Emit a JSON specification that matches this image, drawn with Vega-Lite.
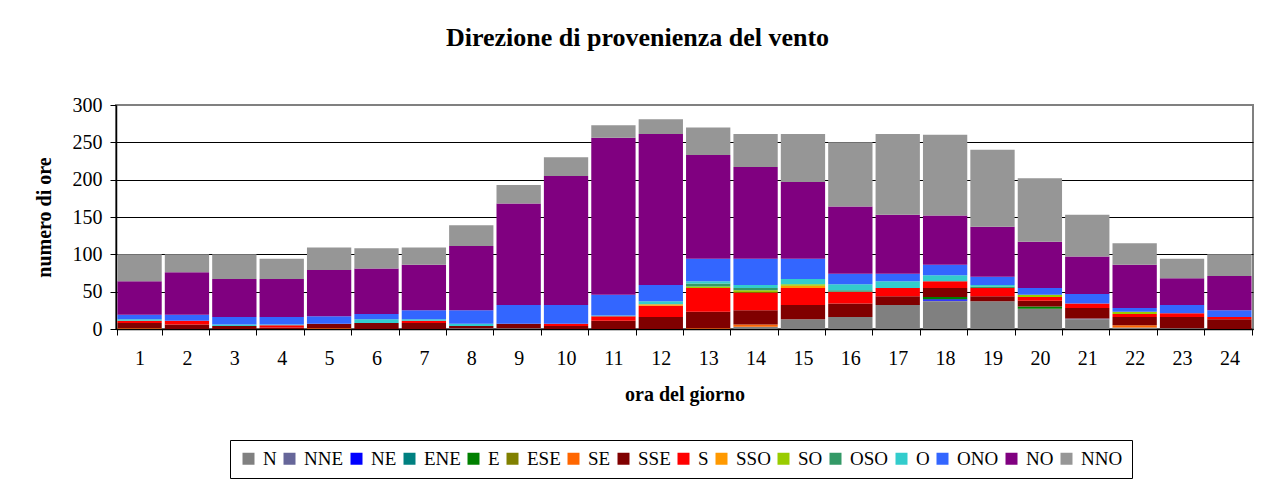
{
  "$schema": "https://vega.github.io/schema/vega-lite/v6.json",
  "width": 1137,
  "height": 224,
  "autosize": {"type": "none"},
  "padding": {"left": 116, "top": 105, "right": 17, "bottom": 155},
  "background": "white",
  "title": {
    "text": "Direzione di provenienza del vento",
    "font": "Liberation Serif",
    "fontSize": 26,
    "fontWeight": "bold",
    "color": "black",
    "anchor": "middle",
    "dx": -47,
    "offset": 44
  },
  "datasets": {
    "dirs": [
      {"d": "N", "k": 0}, {"d": "NNE", "k": 1}, {"d": "NE", "k": 2}, {"d": "ENE", "k": 3},
      {"d": "E", "k": 4}, {"d": "ESE", "k": 5}, {"d": "SE", "k": 6}, {"d": "SSE", "k": 7},
      {"d": "S", "k": 8}, {"d": "SSO", "k": 9}, {"d": "SO", "k": 10}, {"d": "OSO", "k": 11},
      {"d": "O", "k": 12}, {"d": "ONO", "k": 13}, {"d": "NO", "k": 14}, {"d": "NNO", "k": 15}
    ],
    "wind": [
      {"h": 1, "d": "SE", "n": 1}, {"h": 1, "d": "SSE", "n": 7}, {"h": 1, "d": "S", "n": 3}, {"h": 1, "d": "O", "n": 2}, {"h": 1, "d": "ONO", "n": 6}, {"h": 1, "d": "NO", "n": 45}, {"h": 1, "d": "NNO", "n": 36},
      {"h": 2, "d": "SSE", "n": 6}, {"h": 2, "d": "S", "n": 5}, {"h": 2, "d": "ONO", "n": 8}, {"h": 2, "d": "NO", "n": 57}, {"h": 2, "d": "NNO", "n": 24},
      {"h": 3, "d": "SSE", "n": 4}, {"h": 3, "d": "O", "n": 2}, {"h": 3, "d": "ONO", "n": 10}, {"h": 3, "d": "NO", "n": 51}, {"h": 3, "d": "NNO", "n": 33},
      {"h": 4, "d": "SSE", "n": 2}, {"h": 4, "d": "S", "n": 3}, {"h": 4, "d": "O", "n": 1}, {"h": 4, "d": "ONO", "n": 10}, {"h": 4, "d": "NO", "n": 51}, {"h": 4, "d": "NNO", "n": 27},
      {"h": 5, "d": "SE", "n": 1}, {"h": 5, "d": "SSE", "n": 6}, {"h": 5, "d": "ONO", "n": 10}, {"h": 5, "d": "NO", "n": 62}, {"h": 5, "d": "NNO", "n": 30},
      {"h": 6, "d": "SSE", "n": 8}, {"h": 6, "d": "O", "n": 5}, {"h": 6, "d": "ONO", "n": 7}, {"h": 6, "d": "NO", "n": 61}, {"h": 6, "d": "NNO", "n": 27},
      {"h": 7, "d": "SSE", "n": 8}, {"h": 7, "d": "S", "n": 3}, {"h": 7, "d": "O", "n": 2}, {"h": 7, "d": "ONO", "n": 12}, {"h": 7, "d": "NO", "n": 61}, {"h": 7, "d": "NNO", "n": 23},
      {"h": 8, "d": "N", "n": 1}, {"h": 8, "d": "SSE", "n": 3}, {"h": 8, "d": "O", "n": 3}, {"h": 8, "d": "ONO", "n": 18}, {"h": 8, "d": "NO", "n": 86}, {"h": 8, "d": "NNO", "n": 28},
      {"h": 9, "d": "N", "n": 1}, {"h": 9, "d": "SSE", "n": 6}, {"h": 9, "d": "ONO", "n": 25}, {"h": 9, "d": "NO", "n": 136}, {"h": 9, "d": "NNO", "n": 25},
      {"h": 10, "d": "SSE", "n": 4}, {"h": 10, "d": "S", "n": 3}, {"h": 10, "d": "ONO", "n": 25}, {"h": 10, "d": "NO", "n": 173}, {"h": 10, "d": "NNO", "n": 25},
      {"h": 11, "d": "SSE", "n": 11}, {"h": 11, "d": "S", "n": 6}, {"h": 11, "d": "O", "n": 1}, {"h": 11, "d": "ONO", "n": 28}, {"h": 11, "d": "NO", "n": 210}, {"h": 11, "d": "NNO", "n": 17},
      {"h": 12, "d": "SSE", "n": 16}, {"h": 12, "d": "S", "n": 15}, {"h": 12, "d": "SSO", "n": 2}, {"h": 12, "d": "O", "n": 4}, {"h": 12, "d": "ONO", "n": 22}, {"h": 12, "d": "NO", "n": 202}, {"h": 12, "d": "NNO", "n": 20},
      {"h": 13, "d": "SE", "n": 1}, {"h": 13, "d": "SSE", "n": 22}, {"h": 13, "d": "S", "n": 32}, {"h": 13, "d": "SO", "n": 2}, {"h": 13, "d": "OSO", "n": 4}, {"h": 13, "d": "O", "n": 3}, {"h": 13, "d": "ONO", "n": 30}, {"h": 13, "d": "NO", "n": 139}, {"h": 13, "d": "NNO", "n": 37},
      {"h": 14, "d": "N", "n": 3}, {"h": 14, "d": "SE", "n": 3}, {"h": 14, "d": "SSE", "n": 19}, {"h": 14, "d": "S", "n": 24}, {"h": 14, "d": "SO", "n": 3}, {"h": 14, "d": "OSO", "n": 3}, {"h": 14, "d": "O", "n": 4}, {"h": 14, "d": "ONO", "n": 35}, {"h": 14, "d": "NO", "n": 123}, {"h": 14, "d": "NNO", "n": 44},
      {"h": 15, "d": "N", "n": 13}, {"h": 15, "d": "SSE", "n": 19}, {"h": 15, "d": "S", "n": 23}, {"h": 15, "d": "SSO", "n": 3}, {"h": 15, "d": "SO", "n": 2}, {"h": 15, "d": "O", "n": 7}, {"h": 15, "d": "ONO", "n": 27}, {"h": 15, "d": "NO", "n": 103}, {"h": 15, "d": "NNO", "n": 64},
      {"h": 16, "d": "N", "n": 16}, {"h": 16, "d": "SSE", "n": 18}, {"h": 16, "d": "S", "n": 16}, {"h": 16, "d": "OSO", "n": 2}, {"h": 16, "d": "O", "n": 8}, {"h": 16, "d": "ONO", "n": 14}, {"h": 16, "d": "NO", "n": 90}, {"h": 16, "d": "NNO", "n": 86},
      {"h": 17, "d": "N", "n": 32}, {"h": 17, "d": "SSE", "n": 12}, {"h": 17, "d": "S", "n": 11}, {"h": 17, "d": "O", "n": 9}, {"h": 17, "d": "ONO", "n": 10}, {"h": 17, "d": "NO", "n": 79}, {"h": 17, "d": "NNO", "n": 108},
      {"h": 18, "d": "N", "n": 37}, {"h": 18, "d": "NNE", "n": 1}, {"h": 18, "d": "NE", "n": 2}, {"h": 18, "d": "E", "n": 3}, {"h": 18, "d": "SSE", "n": 12}, {"h": 18, "d": "S", "n": 9}, {"h": 18, "d": "O", "n": 8}, {"h": 18, "d": "ONO", "n": 14}, {"h": 18, "d": "NO", "n": 66}, {"h": 18, "d": "NNO", "n": 108},
      {"h": 19, "d": "N", "n": 37}, {"h": 19, "d": "SSE", "n": 7}, {"h": 19, "d": "S", "n": 11}, {"h": 19, "d": "OSO", "n": 2}, {"h": 19, "d": "O", "n": 2}, {"h": 19, "d": "ONO", "n": 11}, {"h": 19, "d": "NO", "n": 67}, {"h": 19, "d": "NNO", "n": 103},
      {"h": 20, "d": "N", "n": 27}, {"h": 20, "d": "E", "n": 3}, {"h": 20, "d": "SSE", "n": 8}, {"h": 20, "d": "S", "n": 5}, {"h": 20, "d": "SO", "n": 3}, {"h": 20, "d": "ONO", "n": 9}, {"h": 20, "d": "NO", "n": 62}, {"h": 20, "d": "NNO", "n": 85},
      {"h": 21, "d": "N", "n": 13}, {"h": 21, "d": "NNE", "n": 1}, {"h": 21, "d": "SSE", "n": 14}, {"h": 21, "d": "S", "n": 6}, {"h": 21, "d": "ONO", "n": 13}, {"h": 21, "d": "NO", "n": 50}, {"h": 21, "d": "NNO", "n": 56},
      {"h": 22, "d": "N", "n": 2}, {"h": 22, "d": "SE", "n": 3}, {"h": 22, "d": "SSE", "n": 11}, {"h": 22, "d": "S", "n": 4}, {"h": 22, "d": "SO", "n": 3}, {"h": 22, "d": "ONO", "n": 5}, {"h": 22, "d": "NO", "n": 58}, {"h": 22, "d": "NNO", "n": 29},
      {"h": 23, "d": "N", "n": 1}, {"h": 23, "d": "SSE", "n": 15}, {"h": 23, "d": "S", "n": 5}, {"h": 23, "d": "ONO", "n": 11}, {"h": 23, "d": "NO", "n": 36}, {"h": 23, "d": "NNO", "n": 26},
      {"h": 24, "d": "SSE", "n": 13}, {"h": 24, "d": "S", "n": 3}, {"h": 24, "d": "ONO", "n": 9}, {"h": 24, "d": "NO", "n": 46}, {"h": 24, "d": "NNO", "n": 29}
    ]
  },
  "data": {"name": "wind"},
  "transform": [
    {"lookup": "d", "from": {"data": {"name": "dirs"}, "key": "d", "fields": ["k"]}}
  ],
  "mark": {"type": "bar"},
  "encoding": {
    "x": {
      "field": "h",
      "type": "ordinal",
      "scale": {"paddingInner": 0.065, "paddingOuter": 0.03},
      "axis": {
        "title": "ora del giorno",
        "titleFont": "Liberation Serif",
        "titleFontSize": 20,
        "titleFontWeight": "bold",
        "titleColor": "black",
        "titlePadding": 16,
        "labelFont": "Liberation Serif",
        "labelFontSize": 20,
        "labelColor": "black",
        "labelAngle": 0,
        "labelPadding": 13,
        "tickBand": "extent",
        "tickSize": 6,
        "tickColor": "black",
        "domainColor": "black",
        "domainWidth": 1.5,
        "grid": false
      }
    },
    "y": {
      "field": "n",
      "type": "quantitative",
      "stack": "zero",
      "scale": {"domain": [0, 300], "nice": false},
      "axis": {
        "title": "numero di ore",
        "titleFont": "Liberation Serif",
        "titleFontSize": 20,
        "titleFontWeight": "bold",
        "titleColor": "black",
        "titlePadding": 18,
        "labelFont": "Liberation Serif",
        "labelFontSize": 20,
        "labelColor": "black",
        "labelPadding": 8,
        "values": [0, 50, 100, 150, 200, 250, 300],
        "tickSize": 6,
        "tickColor": "black",
        "domainColor": "black",
        "domainWidth": 1.5,
        "grid": true,
        "gridColor": {"condition": {"test": "datum.value === 300", "value": "#808080"}, "value": "black"},
        "gridWidth": 1
      }
    },
    "color": {
      "field": "d",
      "type": "nominal",
      "scale": {
        "domain": ["N", "NNE", "NE", "ENE", "E", "ESE", "SE", "SSE", "S", "SSO", "SO", "OSO", "O", "ONO", "NO", "NNO"],
        "range": ["#808080", "#666699", "#0000FF", "#008080", "#008000", "#808000", "#FF6600", "#800000", "#FF0000", "#FF9900", "#99CC00", "#339966", "#33CCCC", "#3366FF", "#800080", "#969696"]
      },
      "legend": {
        "title": null,
        "orient": "none",
        "legendX": 114,
        "legendY": 335,
        "direction": "horizontal",
        "columns": 16,
        "symbolType": "square",
        "symbolSize": 144,
        "symbolStrokeWidth": 0,
        "labelFont": "Liberation Serif",
        "labelFontSize": 19,
        "labelColor": "black",
        "labelOffset": 5,
        "columnPadding": 3,
        "strokeColor": "black",
        "padding": 9
      }
    },
    "order": {"field": "k", "type": "quantitative", "sort": "ascending"}
  },
  "config": {
    "font": "Liberation Serif",
    "view": {"stroke": "#808080", "strokeWidth": 2}
  }
}
